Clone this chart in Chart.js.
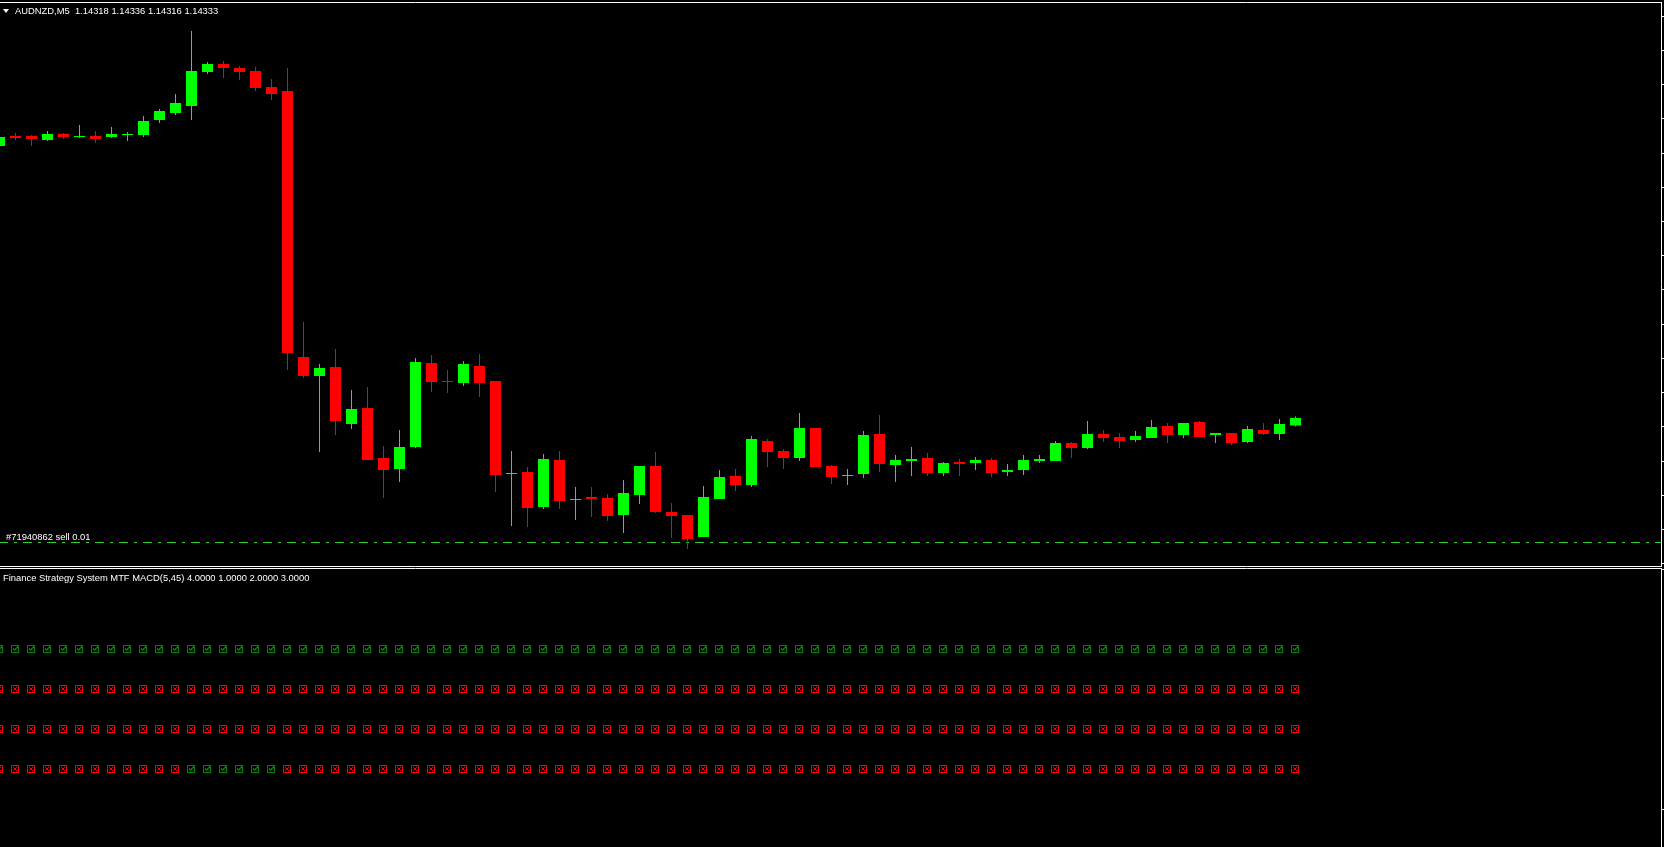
<!DOCTYPE html>
<html>
<head>
<meta charset="utf-8">
<script src="https://cdn.jsdelivr.net/npm/chart.js@4.4.1/dist/chart.umd.min.js"></script>
<style>
  html, body { margin: 0; padding: 0; background: #000; overflow: hidden; }
  body { width: 1664px; height: 847px; position: relative; }
  canvas { position: absolute; left: 0; }
  #main { top: 0; }
  #ind { top: 567px; }
  .lbl { position: absolute; font: 9.4px/11px "Liberation Sans", Arial, sans-serif; color: #fff; white-space: pre; }
  #tri { position: absolute; left: 3px; top: 9px; width: 0; height: 0;
         border-left: 3px solid transparent; border-right: 3px solid transparent; border-top: 4px solid #fff; }
</style>
</head>
<body>
<canvas id="main" width="1664" height="567"></canvas>
<canvas id="ind" width="1664" height="280"></canvas>
<div id="tri"></div>
<div class="lbl" id="header" style="left:15px;top:5px"></div>
<div class="lbl" id="order" style="left:6px;top:531px"></div>
<div class="lbl" id="indTitle" style="left:3px;top:572px"></div>
<script>
// AUDNZD M5 candles, oldest first
const symbol = 'AUDNZD,M5';

const open = [
  1.14877, 1.14897, 1.14897, 1.14889, 1.14901, 1.14895, 1.14897, 1.14895, 1.14899, 1.14899,
  1.14929, 1.14943, 1.14957, 1.15025, 1.15041, 1.15033, 1.15027, 1.14995, 1.14987, 1.14455,
  1.14417, 1.14435, 1.14321, 1.14353, 1.14253, 1.14231, 1.14275, 1.14443, 1.14407, 1.14403,
  1.14437, 1.14407, 1.14221, 1.14225, 1.14155, 1.14249, 1.14169, 1.14175, 1.14173, 1.14139,
  1.14179, 1.14237, 1.14145, 1.14139, 1.14095, 1.14171, 1.14217, 1.14199, 1.14287, 1.14267,
  1.14253, 1.14313, 1.14237, 1.14217, 1.14221, 1.14301, 1.14239, 1.14247, 1.14253, 1.14223,
  1.14245, 1.14243, 1.14249, 1.14225, 1.14229, 1.14247, 1.14247, 1.14283, 1.14273, 1.14301,
  1.14295, 1.14289, 1.14293, 1.14317, 1.14299, 1.14325, 1.14299, 1.14303, 1.14285, 1.14309,
  1.14301, 1.14318
];
const high = [
  1.14897, 1.14903, 1.14899, 1.14907, 1.14903, 1.14919, 1.14907, 1.14915, 1.14905, 1.14937,
  1.14951, 1.14981, 1.15107, 1.15045, 1.15047, 1.15037, 1.15035, 1.15011, 1.15033, 1.14525,
  1.14441, 1.14471, 1.14389, 1.14395, 1.14277, 1.14309, 1.14453, 1.14459, 1.14429, 1.14447,
  1.14461, 1.14407, 1.14267, 1.14235, 1.14261, 1.14267, 1.14195, 1.14195, 1.14181, 1.14209,
  1.14237, 1.14265, 1.14163, 1.14139, 1.14197, 1.14229, 1.14231, 1.14297, 1.14291, 1.14271,
  1.14343, 1.14313, 1.14239, 1.14231, 1.14307, 1.14339, 1.14259, 1.14275, 1.14263, 1.14245,
  1.14251, 1.14255, 1.14253, 1.14241, 1.14259, 1.14259, 1.14287, 1.14285, 1.14327, 1.14309,
  1.14303, 1.14307, 1.14329, 1.14323, 1.14323, 1.14327, 1.14303, 1.14303, 1.14317, 1.14323,
  1.14331, 1.14336
];
const low = [
  1.14875, 1.14889, 1.14877, 1.14887, 1.14891, 1.14893, 1.14883, 1.14893, 1.14887, 1.14895,
  1.14923, 1.14939, 1.14929, 1.15021, 1.15013, 1.15009, 1.14987, 1.14969, 1.14429, 1.14413,
  1.14265, 1.14299, 1.14311, 1.14249, 1.14173, 1.14205, 1.14273, 1.14385, 1.14383, 1.14397,
  1.14375, 1.14185, 1.14117, 1.14115, 1.14151, 1.14151, 1.14129, 1.14135, 1.14127, 1.14103,
  1.14161, 1.14143, 1.14093, 1.14071, 1.14095, 1.14171, 1.14187, 1.14195, 1.14235, 1.14231,
  1.14247, 1.14235, 1.14201, 1.14199, 1.14213, 1.14225, 1.14205, 1.14217, 1.14217, 1.14217,
  1.14217, 1.14229, 1.14215, 1.14217, 1.14219, 1.14243, 1.14247, 1.14253, 1.14271, 1.14285,
  1.14273, 1.14285, 1.14293, 1.14283, 1.14293, 1.14295, 1.14283, 1.14279, 1.14283, 1.14299,
  1.14289, 1.14316
];
const close = [
  1.14895, 1.14893, 1.14891, 1.14901, 1.14895, 1.14897, 1.14891, 1.14901, 1.14901, 1.14927,
  1.14947, 1.14963, 1.15027, 1.15041, 1.15033, 1.15025, 1.14993, 1.14981, 1.14463, 1.14417,
  1.14433, 1.14327, 1.14351, 1.14249, 1.14229, 1.14275, 1.14445, 1.14405, 1.14405, 1.14441,
  1.14403, 1.14219, 1.14223, 1.14153, 1.14251, 1.14167, 1.14171, 1.14171, 1.14137, 1.14183,
  1.14237, 1.14145, 1.14137, 1.14091, 1.14175, 1.14215, 1.14199, 1.14291, 1.14265, 1.14253,
  1.14313, 1.14235, 1.14215, 1.14219, 1.14299, 1.14241, 1.14249, 1.14251, 1.14223, 1.14243,
  1.14241, 1.14249, 1.14223, 1.14229, 1.14249, 1.14251, 1.14283, 1.14273, 1.14301, 1.14293,
  1.14287, 1.14297, 1.14315, 1.14299, 1.14323, 1.14295, 1.14303, 1.14283, 1.14311, 1.14301,
  1.14321, 1.14333
];

// price axis range and tick marks (labels fall outside the window)
const priceRange = [1.14037, 1.15165];
const priceTicks = [1.15137, 1.15069, 1.15000, 1.14932, 1.14863, 1.14795, 1.14726, 1.14658, 1.14590,
                    1.14521, 1.14453, 1.14384, 1.14316, 1.14247, 1.14179, 1.14111, 1.14042];
// visible bar index range (empty space to the right of the last bar)
const barRange = [0.03125, 103.84375];

// open sell order
const orderTicket = 71940862;
const orderLots = 0.01;
const orderPrice = 1.14084;

// MTF MACD indicator: 1 = tick (up), 0 = cross (down)
const indName = 'Finance Strategy System MTF MACD(5,45)';
const indValues = [4, 1, 2, 3];
const indLevels = [4, 3, 2, 1];
const indRange = [-0.9375, 6.0375];
const indTicks = [0, 6];
const row1 = [1,1,1,1,1,1,1,1,1,1, 1,1,1,1,1,1,1,1,1,1, 1,1,1,1,1,1,1,1,1,1, 1,1,1,1,1,1,1,1,1,1,
              1,1,1,1,1,1,1,1,1,1, 1,1,1,1,1,1,1,1,1,1, 1,1,1,1,1,1,1,1,1,1, 1,1,1,1,1,1,1,1,1,1, 1,1];
const row2 = [0,0,0,0,0,0,0,0,0,0, 0,0,0,0,0,0,0,0,0,0, 0,0,0,0,0,0,0,0,0,0, 0,0,0,0,0,0,0,0,0,0,
              0,0,0,0,0,0,0,0,0,0, 0,0,0,0,0,0,0,0,0,0, 0,0,0,0,0,0,0,0,0,0, 0,0,0,0,0,0,0,0,0,0, 0,0];
const row3 = [0,0,0,0,0,0,0,0,0,0, 0,0,0,0,0,0,0,0,0,0, 0,0,0,0,0,0,0,0,0,0, 0,0,0,0,0,0,0,0,0,0,
              0,0,0,0,0,0,0,0,0,0, 0,0,0,0,0,0,0,0,0,0, 0,0,0,0,0,0,0,0,0,0, 0,0,0,0,0,0,0,0,0,0, 0,0];
const row4 = [0,0,0,0,0,0,0,0,0,0, 0,0,1,1,1,1,1,1,0,0, 0,0,0,0,0,0,0,0,0,0, 0,0,0,0,0,0,0,0,0,0,
              0,0,0,0,0,0,0,0,0,0, 0,0,0,0,0,0,0,0,0,0, 0,0,0,0,0,0,0,0,0,0, 0,0,0,0,0,0,0,0,0,0, 0,0];

const bull = '#00ff00';
const bear = '#ff0000';

// texts
const last = close.length - 1;
document.getElementById('header').textContent =
  symbol + '  ' + [open[last], high[last], low[last], close[last]].map(v => v.toFixed(5)).join(' ');
document.getElementById('order').textContent = '#' + orderTicket + ' sell ' + orderLots.toFixed(2);
document.getElementById('indTitle').textContent = indName + ' ' + indValues.map(v => v.toFixed(4)).join(' ');

// window frame lines
const frame = {
  id: 'frame',
  afterDraw(chart, args, opts) {
    const ctx = chart.ctx, a = chart.chartArea;
    ctx.save();
    ctx.strokeStyle = '#fff';
    ctx.lineWidth = 1;
    ctx.beginPath();
    ctx.moveTo(0, a.top + 0.5); ctx.lineTo(a.right + 1, a.top + 0.5);
    if (opts.bottom) { ctx.moveTo(0, a.bottom + 0.5); ctx.lineTo(a.right + 1, a.bottom + 0.5); }
    ctx.moveTo(a.right + 0.5, a.top); ctx.lineTo(a.right + 0.5, chart.height);
    ctx.stroke();
    ctx.restore();
  }
};

function sideAxis(range, ticks) {
  return {
    position: 'right',
    min: range[0],
    max: range[1],
    bounds: 'data',
    beginAtZero: false,
    afterBuildTicks: s => { s.ticks = ticks.map(v => ({ value: v })); },
    ticks: { display: false },
    grid: { display: true, drawOnChartArea: false, drawTicks: true, tickLength: 3, color: '#fff', lineWidth: 1 },
    border: { display: false }
  };
}
function barAxis() {
  return { type: 'linear', min: barRange[0], max: barRange[1], offset: false, display: false };
}

const colors = open.map((o, i) => close[i] > o ? bull : bear);

new Chart(document.getElementById('main'), {
  type: 'bar',
  data: {
    datasets: [
      {
        data: open.map((o, i) => ({ x: i, y: [o, close[i]] })),
        backgroundColor: colors,
        barThickness: 11,
        grouped: false,
        borderWidth: 0,
        inflateAmount: 0
      },
      {
        data: open.map((o, i) => ({ x: i, y: [low[i], high[i]] })),
        backgroundColor: colors,
        barThickness: 1,
        grouped: false,
        borderWidth: 0,
        inflateAmount: 0
      },
      {
        type: 'line',
        data: [{ x: barRange[0], y: orderPrice }, { x: barRange[1], y: orderPrice }],
        borderColor: '#32cd32',
        borderWidth: 1,
        borderDash: [9, 6, 3, 6],
        borderDashOffset: 1,
        pointRadius: 0
      }
    ]
  },
  options: {
    responsive: false,
    animation: false,
    devicePixelRatio: 1,
    events: [],
    layout: { autoPadding: false, padding: { top: 2, bottom: 1, left: 0, right: 0 } },
    plugins: { legend: { display: false }, tooltip: { enabled: false }, frame: { bottom: true } },
    scales: { x: barAxis(), y: sideAxis(priceRange, priceTicks) }
  },
  plugins: [frame]
});

// small check / cross boxes used as point styles
function makeIcon(color, pixels) {
  const c = document.createElement('canvas');
  c.width = 9; c.height = 9;
  const g = c.getContext('2d');
  g.strokeStyle = color;
  g.lineWidth = 1;
  g.strokeRect(0.5, 0.5, 7, 7);
  g.fillStyle = color;
  pixels.forEach(p => g.fillRect(p[0], p[1], 1, 1));
  return c;
}
const tickIcon = makeIcon('#008000', [[2,3],[2,4],[3,4],[3,5],[4,3],[4,4],[5,2],[5,3],[6,1],[6,2]]);
const crossIcon = makeIcon('#ff0000', [[2,2],[5,2],[3,3],[4,3],[3,4],[4,4],[2,5],[5,5]]);

const rows = [row1, row2, row3, row4];

new Chart(document.getElementById('ind'), {
  type: 'scatter',
  data: {
    datasets: rows.map((r, k) => ({
      data: r.map((v, i) => ({ x: i, y: indLevels[k] })),
      pointStyle: c => r[c.dataIndex] ? tickIcon : crossIcon,
      pointRadius: 5,
      pointBorderWidth: 0
    }))
  },
  options: {
    responsive: false,
    animation: false,
    devicePixelRatio: 1,
    events: [],
    layout: { autoPadding: false, padding: { top: 1, bottom: 0, left: 0, right: 0 } },
    plugins: { legend: { display: false }, tooltip: { enabled: false }, frame: { bottom: false } },
    scales: { x: barAxis(), y: sideAxis(indRange, indTicks) }
  },
  plugins: [frame]
});
</script>
</body>
</html>
